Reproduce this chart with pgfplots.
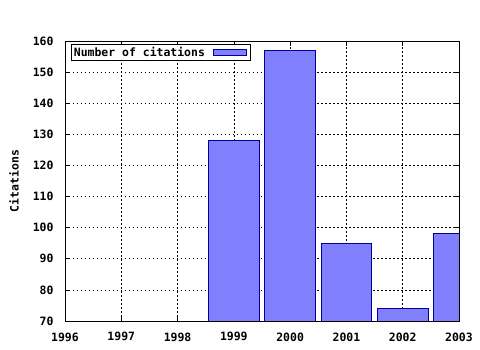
\documentclass[border=0pt]{standalone}
\usepackage{fontspec}
\setmainfont{DejaVu Sans Mono}
\usepackage{pgfplots}
\pgfplotsset{compat=1.18}
\definecolor{barfill}{RGB}{128,128,255}
\definecolor{baredge}{RGB}{0,0,150}
\begin{document}
\begin{tikzpicture}[x=1bp,y=1bp]
\begin{axis}[
  scale only axis,
  width=394bp, height=280bp,
  xmin=1996, xmax=2003, ymin=70, ymax=160,
  xtick={1996,...,2003}, ytick={70,80,...,160},
  minor x tick num=4,
  xticklabel style={/pgf/number format/1000 sep={}, yshift=-8bp},
  yticklabel style={xshift=-8bp},
  /pgf/number format/assume math mode=true,
  tick label style={font=\fontsize{11.5}{13}\selectfont\bfseries},
  label style={font=\fontsize{11.5}{13}\selectfont\bfseries},
  ylabel={Citations},
  ylabel style={at={(axis description cs:0,0.5)}, anchor=center, rotate=0, yshift=51bp},
  grid=major,
  major grid style={black, line width=0.6bp, dash pattern=on 1.5bp off 2.5bp},
  axis line style={line width=0.8bp},
  tick style={black, line width=0.6bp},
  major tick length=5bp, minor tick length=2.5bp,
  legend style={at={(0,1)}, anchor=north west, xshift=6bp, yshift=-3bp,
    font=\fontsize{11.5}{13}\selectfont\bfseries, draw=black, line width=0.8bp,
    inner sep=0.5bp, row sep=0pt, cells={anchor=west}},
  legend plot pos=right,
]
\addplot[ybar, bar width=0.9, fill=barfill, draw=baredge, line width=0.8bp,
  legend image code/.code={\draw[fill=barfill, draw=baredge, line width=0.8bp] (6bp,-3bp) rectangle (39bp,3bp); \path[draw=none, fill=none] (0bp,-1bp) rectangle (43bp,1bp);}]
  coordinates {(1999,128) (2000,157) (2001,95) (2002,74) (2003,98)};
\addlegendentry{Number of citations}
\end{axis}
\path (-65bp,-29bp) rectangle (415bp,321bp);
\end{tikzpicture}
\end{document}
